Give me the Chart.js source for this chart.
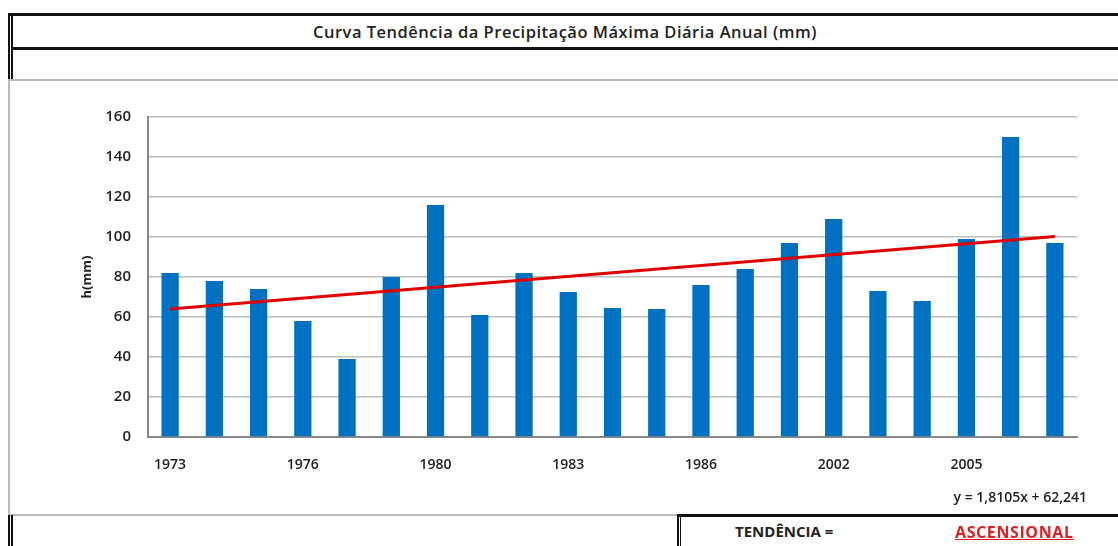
<!DOCTYPE html>
<html>
<head>
<meta charset="utf-8">
<script src="https://cdn.jsdelivr.net/npm/chart.js@4"></script>
<style>
  body { margin: 0; background: #fff; font-family: "Open Sans", sans-serif; }
  #page { position: relative; width: 1118px; height: 546px; overflow: hidden; }
  .abs { position: absolute; }
  .thick { background: #111; }
  .thin { background: #bbb; }
  #title { left: 12px; top: 15px; width: 1106px; height: 33px; line-height: 33px; text-align: center;
           font-size: 16.5px; font-weight: 600; color: #222; letter-spacing: 0.5px; }
  #wrap { left: 0; top: 82px; width: 1118px; height: 432px; }
  #eq { left: 880px; top: 487px; width: 207px; text-align: right; font-size: 14px; font-weight: 600; color: #222; }
  #tend { left: 735px; top: 521px; font-size: 15px; font-weight: 700; color: #222; }
  #asc { left: 955px; top: 521px; font-size: 16px; font-weight: 700; color: #e02020; text-decoration: underline; letter-spacing: 0.6px; }
</style>
</head>
<body>
<div id="page">
  <div class="abs thick" style="left:8px;top:13px;width:1110px;height:3px"></div>
  <div class="abs thick" style="left:11px;top:47px;width:1107px;height:3px"></div>
  <div class="abs thick" style="left:8px;top:13px;width:2px;height:67px"></div>
  <div class="abs thick" style="left:11px;top:13px;width:2px;height:67px"></div>
  <div class="abs thin" style="left:8px;top:79px;width:1110px;height:2px"></div>
  <div class="abs thin" style="left:8px;top:80px;width:2px;height:436px"></div>
  <div class="abs thin" style="left:8px;top:514px;width:670px;height:2px"></div>
  <div class="abs thick" style="left:677px;top:514px;width:441px;height:3px"></div>
  <div class="abs thick" style="left:8px;top:515px;width:2px;height:31px"></div>
  <div class="abs thick" style="left:11px;top:515px;width:2px;height:31px"></div>
  <div class="abs thick" style="left:677px;top:514px;width:2px;height:32px"></div>
  <div class="abs thick" style="left:680px;top:514px;width:1px;height:32px"></div>
  <div id="title" class="abs">Curva Tendência da Precipitação Máxima Diária Anual (mm)</div>
  <div id="wrap" class="abs"><canvas id="myChart" width="1118" height="432"></canvas></div>
  <div id="eq" class="abs">y = 1,8105x + 62,241</div>
  <div id="tend" class="abs">TENDÊNCIA =</div>
  <div id="asc" class="abs">ASCENSIONAL</div>
</div>
<script>
var years = ["1973","1974","1975","1976","1977","1979","1980","1981","1982","1983","1984",
             "1985","1986","1987","1988","2002","2003","2004","2005","2006","2007"];
var precip = [82, 78, 74, 58, 39, 80, 116, 61, 82, 72.5, 64.5, 64, 76, 84, 97, 109, 73, 68, 99, 150, 97];
// trend line read at its two ends, gaps spanned
var trend = [64, null, null, null, null, null, null, null, null, null, null,
             null, null, null, null, null, null, null, null, null, 100.2];
var yTicks = [0, 20, 40, 60, 80, 100, 120, 140, 160];

var tickFont = { family: "Open Sans", size: 14, weight: "600" };

new Chart("myChart", {
  type: "bar",
  data: {
    labels: years,
    datasets: [{
      type: "line",
      data: trend,
      borderColor: "#e00000",
      borderWidth: 3,
      pointRadius: 0,
      spanGaps: true,
      order: 0
    }, {
      data: precip,
      backgroundColor: "#0070c0",
      barPercentage: 0.39,
      categoryPercentage: 1,
      order: 1
    }]
  },
  options: {
    responsive: false,
    animation: false,
    layout: { padding: { top: 35, right: 41, left: 75, bottom: 42 } },
    plugins: { legend: { display: false }, tooltip: { enabled: false } },
    scales: {
      x: {
        grid: { display: false },
        border: { color: "#888", width: 2 },
        ticks: {
          color: "#222", font: tickFont, maxRotation: 0, autoSkip: false, padding: 12,
          callback: function(v, i) { return i % 3 === 0 ? years[i] : ""; }
        },
        afterFit: function(a) { a.height = 35; }
      },
      y: {
        min: 0, max: 160,
        afterBuildTicks: function(a) { a.ticks = yTicks.map(function(v) { return { value: v }; }); },
        grid: { color: "#bdbdbd", lineWidth: 1.5, drawTicks: false },
        border: { color: "#888", width: 2 },
        ticks: { color: "#222", font: { family: "Open Sans", size: 15, weight: "600" }, padding: 17 },
        title: { display: true, text: "h(mm)", color: "#222", font: { family: "Open Sans", size: 13, weight: "700" } },
        afterFit: function(a) { a.width = 73; }
      }
    }
  }
});
</script>
</body>
</html>
